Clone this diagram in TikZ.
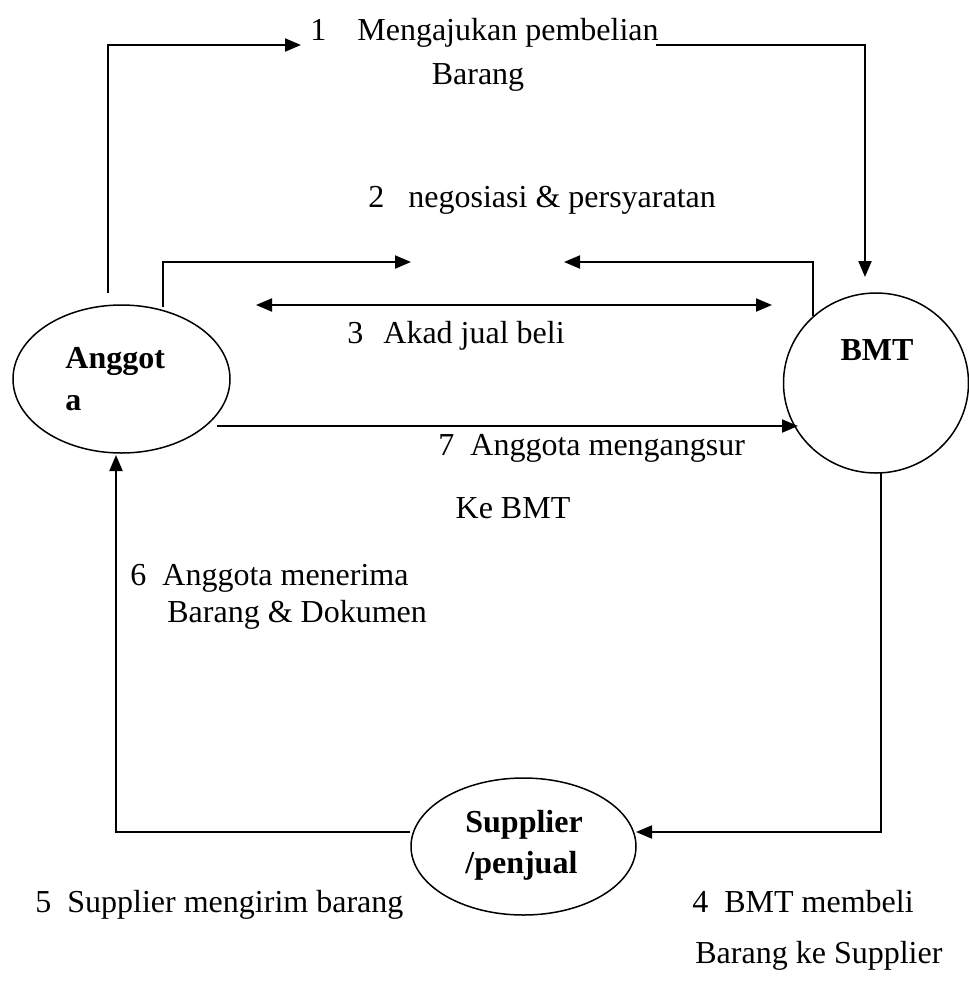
\documentclass[tikz,border=0pt]{standalone}
\usepackage{fontspec}
\setmainfont{Liberation Serif}
\usetikzlibrary{arrows.meta,shapes.geometric}
\begin{document}
\begin{tikzpicture}[x=0.5pt,y=-0.5pt,
  lbl/.style={anchor=base west,inner sep=0pt,font=\fontsize{16}{19}\selectfont},
  blbl/.style={anchor=base west,inner sep=0pt,font=\fontsize{16}{19}\selectfont\bfseries},
  ent/.style={draw,ellipse,line width=0.75pt,inner sep=0pt},
  conn/.style={line width=1pt},
  arr/.style={conn,-{Triangle[length=8pt,width=6.5pt]}},
  darr/.style={conn,{Triangle[length=8pt,width=6.5pt]}-{Triangle[length=8pt,width=6.5pt]}}]
\useasboundingbox (0,0) rectangle (969,992);

% entities
\node[ent,minimum width=108.5pt,minimum height=74pt] (ang) at (121.5,379) {};
\node[ent,minimum width=92.5pt,minimum height=90pt] (bmt) at (876,383) {};
\node[ent,minimum width=112.5pt,minimum height=68.5pt] (sup) at (523.5,846.5) {};

\node[blbl] (angT1) at (65,368) {Anggot};
\node[blbl] (angT2) at (65,410) {a};
\node[blbl,anchor=base] (bmtT) at (877,360) {BMT};
\node[blbl] (supT1) at (465,832) {Supplier};
\node[blbl] (supT2) at (465,873) {/penjual};

% waypoints
\coordinate (p1s) at (108,293);
\coordinate (p1e) at (301,45);
\coordinate (q1s) at (656,45);
\coordinate (q1e) at (865,277);
\coordinate (p2s) at (163,307);
\coordinate (p2e) at (411,262);
\coordinate (q2s) at (813,316);
\coordinate (q2e) at (564,262);
\coordinate (p3a) at (256,305);
\coordinate (p3b) at (772,305);
\coordinate (p7s) at (217,426);
\coordinate (p7e) at (798,426);
\coordinate (p4s) at (881,473);
\coordinate (p4e) at (636,832);
\coordinate (p6s) at (410,832);
\coordinate (p6e) at (116,455);

% connectors
\draw[arr] (p1s) |- (p1e);
\draw[arr] (q1s) -| (q1e);
\draw[arr] (p2s) |- (p2e);
\draw[arr] (q2s) |- (q2e);
\draw[darr] (p3a) -- (p3b);
\draw[arr] (p7s) -- (p7e);
\draw[arr] (p4s) |- (p4e);
\draw[arr] (p6s) -| (p6e);

% labels
\node[lbl] (t1) at (310,40) {1\hspace{15.5pt}Mengajukan pembelian};
\node[lbl,anchor=base] (t1b) at (478,84) {Barang};
\node[lbl] (t2) at (368,207) {2\hspace{12pt}negosiasi \& persyaratan};
\node[lbl] (t3) at (347,343) {3\hspace{10pt}Akad jual beli};
\node[lbl] (t7) at (438,455) {7\hspace{8pt}Anggota mengangsur};
\node[lbl,anchor=base] (t7b) at (513,518) {Ke BMT};
\node[lbl] (t6) at (130,585) {6\hspace{8pt}Anggota menerima};
\node[lbl] (t6b) at (167,622) {Barang \& Dokumen};
\node[lbl] (t5) at (35,912) {5\hspace{8pt}Supplier mengirim barang};
\node[lbl] (t4) at (692,912) {4\hspace{8pt}BMT membeli};
\node[lbl] (t4b) at (695,963) {Barang ke Supplier};
\end{tikzpicture}
\end{document}
